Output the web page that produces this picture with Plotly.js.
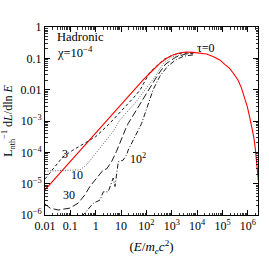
<!DOCTYPE html>
<html>
<head>
<meta charset="utf-8">
<script src="https://cdn.plot.ly/plotly-3.0.1.min.js"></script>
<style>html,body{margin:0;padding:0;background:#fff;}#chart{width:269px;height:256px;}</style>
</head>
<body>
<div id="chart"></div>
<script>
// values, as log10(E/m_e c^2) and log10(L^-1 dL/dlnE)
const tau0_logE  = [-2.0, 1.0, 1.5, 1.87, 2.2, 2.53, 2.8, 3.05, 3.3, 3.55, 3.84, 4.1, 4.37, 4.65, 4.89, 5.1, 5.28, 5.45, 5.61, 5.75, 5.87, 5.98, 6.07, 6.16, 6.23, 6.29, 6.33, 6.37, 6.40, 6.45];
const tau0_logL  = [-5.20, -2.47, -2.0, -1.69, -1.42, -1.16, -1.0, -0.89, -0.83, -0.80, -0.81, -0.83, -0.86, -0.95, -1.05, -1.2, -1.32, -1.5, -1.69, -1.95, -2.23, -2.55, -2.87, -3.2, -3.50, -3.85, -4.14, -4.4, -4.67, -5.2];

const tau3_logE  = [-2.0, -1.6, -1.3, -0.9, -0.4, 0.0, 0.5, 1.0, 1.5, 1.75, 2.13, 2.66, 3.04, 3.4, 3.9];
const tau3_logL  = [-4.85, -4.45, -4.15, -3.93, -3.68, -3.5, -3.12, -2.7, -2.25, -2.01, -1.45, -1.05, -0.89, -0.83, -0.82];

const tau10_logE = [-2.0, -1.67, -1.15, -0.62, -0.36, -0.10, 0.17, 0.43, 0.69, 0.95, 1.54, 1.94, 2.33, 2.65, 3.0, 3.5, 3.85];
const tau10_logL = [-4.60, -4.59, -4.59, -4.56, -4.40, -4.13, -3.87, -3.60, -3.33, -2.97, -2.44, -2.01, -1.6, -1.18, -0.96, -0.86, -0.83];

const tau30_logE = [-2.0, -1.80, -1.48, -1.02, -0.69, -0.43, -0.23, 0.04, 0.30, 0.43, 0.63, 0.82, 1.02, 1.19, 1.28, 1.67, 2.09, 2.45, 2.76, 3.16, 3.55, 3.85];
const tau30_logL = [-5.65, -5.78, -5.84, -5.78, -5.62, -5.36, -5.09, -4.80, -4.56, -4.53, -4.29, -3.97, -3.55, -3.23, -3.08, -2.55, -2.01, -1.53, -1.18, -0.96, -0.86, -0.85];

const tau100_logE = [-0.55, -0.10, 0.17, 0.30, 0.49, 0.69, 0.76, 0.89, 1.08, 1.22, 1.28, 1.81, 2.26, 2.53, 2.84, 3.16, 3.47, 3.85];
const tau100_logL = [-6.05, -5.63, -5.52, -5.26, -5.26, -4.82, -5.09, -4.30, -4.25, -4.08, -3.93, -3.08, -2.01, -1.57, -1.25, -1.05, -0.93, -0.89];

const xTickVals = [0.01, 0.1, 1, 10, 1e2, 1e3, 1e4, 1e5, 1e6];
const xTickText = ['0.01', '0.1', '1', '10', '10<sup>2</sup>', '10<sup>3</sup>', '10<sup>4</sup>', '10<sup>5</sup>', '10<sup>6</sup>'];
const yTickVals = [1, 0.1, 0.01, 1e-3, 1e-4, 1e-5, 1e-6];
const yTickText = ['1', '0.1', '0.01', '10<sup>−3</sup>', '10<sup>−4</sup>', '10<sup>−5</sup>', '10<sup>−6</sup>'];

const curveLabels = ['τ=0', '3', '10', '30', '10<sup>2</sup>'];

const pw = a => a.map(v => Math.pow(10, v));
const FONT = 'Liberation Serif, Times New Roman, serif';

function tr(lx, ly, color, dash, width) {
  return {x: pw(lx), y: pw(ly), type: 'scatter', mode: 'lines',
          line: {color: color, dash: dash, width: width}, hoverinfo: 'skip'};
}

const data = [
  tr(tau100_logE, tau100_logL, '#000', '5px,2px,1px,2px', 0.9),
  tr(tau30_logE, tau30_logL, '#000', '7px,3px', 0.9),
  tr(tau10_logE, tau10_logL, '#555', '1px,1.5px', 0.9),
  tr(tau3_logE, tau3_logL, '#000', '3px,2.5px', 0.9),
  tr(tau0_logE, tau0_logL, '#ff0000', 'solid', 1.1)
];

const axisCommon = {
  type: 'log', showgrid: false, zeroline: false,
  showline: true, linecolor: '#000', linewidth: 1, mirror: 'allticks',
  ticks: 'inside', ticklen: 5, tickwidth: 1, tickcolor: '#000',
  tickmode: 'array',
  tickfont: {family: FONT, size: 12, color: '#000'},
  minor: {ticks: 'inside', ticklen: 2.5, tickwidth: 0.8, tickcolor: '#000', dtick: 'D1', showgrid: false}
};

const layout = {
  width: 269, height: 256,
  margin: {l: 45, r: 11, t: 27, b: 41},
  paper_bgcolor: '#fff', plot_bgcolor: '#fff',
  showlegend: false,
  font: {family: FONT, size: 12, color: '#000'},
  xaxis: Object.assign({}, axisCommon, {
    range: [-2, 6.4], tickvals: xTickVals, ticktext: xTickText,
    title: {text: '(<i>E</i>/<i>m</i><sub><i>e</i></sub><i>c</i><sup>2</sup>)', font: {family: FONT, size: 13}}
  }),
  yaxis: Object.assign({}, axisCommon, {
    range: [-6, 0], tickvals: yTickVals, ticktext: yTickText,
    title: {text: 'L<sub>nth</sub><sup>−1</sup> d<i>L</i>/dln <i>E</i>', font: {family: FONT, size: 12}}
  }),
  annotations: [
    {text: 'Hadronic', x: 0.052, y: 0.946, xref: 'paper', yref: 'paper', xanchor: 'left', yanchor: 'middle', showarrow: false, borderpad: 0, font: {size: 12.5}},
    {text: 'χ=10<sup>−4</sup>', x: 0.052, y: 0.866, xref: 'paper', yref: 'paper', xanchor: 'left', yanchor: 'middle', showarrow: false, borderpad: 0, font: {size: 12.5}},
    {text: curveLabels[0], x: Math.log10(2.3e4), y: Math.log10(0.22), xanchor: 'center', yanchor: 'middle', showarrow: false, font: {size: 12}},
    {text: curveLabels[1], x: Math.log10(0.06), y: Math.log10(9e-5), xanchor: 'center', yanchor: 'middle', showarrow: false, font: {size: 12}},
    {text: curveLabels[2], x: Math.log10(0.18), y: Math.log10(1.9e-5), xanchor: 'center', yanchor: 'middle', showarrow: false, font: {size: 12}},
    {text: curveLabels[3], x: Math.log10(0.087), y: Math.log10(4.3e-6), xanchor: 'center', yanchor: 'middle', showarrow: false, font: {size: 12}},
    {text: curveLabels[4], x: Math.log10(46), y: Math.log10(6.5e-5), xanchor: 'center', yanchor: 'middle', showarrow: false, font: {size: 12}}
  ]
};

Plotly.newPlot('chart', data, layout, {staticPlot: true, displayModeBar: false});
</script>
</body>
</html>
